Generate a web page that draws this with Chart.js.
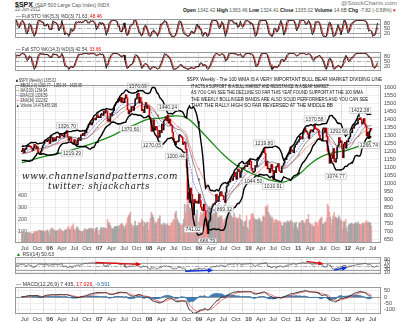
<!DOCTYPE html>
<html>
<head>
<meta charset="utf-8">
<script src="https://cdn.jsdelivr.net/npm/chart.js@4.4.1/dist/chart.umd.min.js"></script>
<style>
  body { margin:0; width:400px; height:323px; background:#fff; position:relative; overflow:hidden; font-family:"Liberation Sans", Arial, sans-serif; }
  canvas { position:absolute; left:0; }
  .t { position:absolute; white-space:nowrap; line-height:1; color:#333; transform-origin:0 0; }
  .note { position:absolute; white-space:nowrap; line-height:1; color:#111; font-size:5.6px; transform-origin:0 0; }
  .wm { position:absolute; white-space:nowrap; line-height:1; color:#1a1a1a; font-family:"DejaVu Serif", serif; font-style:italic; font-size:10px; letter-spacing:0.6px; transform-origin:0 0; }
</style>
</head>
<body>
<canvas id="sto1" width="400" height="32" style="top:13px"></canvas>
<canvas id="sto2" width="400" height="32" style="top:46px"></canvas>
<canvas id="main" width="400" height="173" style="top:79px"></canvas>
<canvas id="rsi" width="400" height="30" style="top:251px"></canvas>
<canvas id="macd" width="400" height="42" style="top:281px"></canvas>

<div class="t" style="left:15px;top:1px;font-size:7px;color:#111"><b>$SPX</b> <span style="font-size:5px;color:#555">(S&amp;P 500 Large Cap Index) INDX</span></div>
<div class="t" style="left:15px;top:8px;font-size:4.5px;color:#555">22-Jun-2012</div>
<div class="t" id="stc" style="left:341px;top:1px;font-size:5px;color:#777">@StockCharts.com</div>
<div class="t" id="ohlc" style="left:183px;top:8px;font-size:5px;color:#555"><b style="color:#222">Open</b> 1342.42 <b style="color:#222">High</b> 1363.46 <b style="color:#222">Low</b> 1324.41 <b style="color:#222">Close</b> 1335.02 <b style="color:#222">Volume</b> 14.6B <b style="color:#222">Chg</b> -7.82 (-0.58%) <span style="color:#c00">&#9662;</span></div>

<div class="t" id="lg1" style="left:16px;top:14px;font-size:5px;">&#8212; Full STO %K(5,3) %D(3) 71.63, <span style="color:#d00">48.46</span></div>
<div class="t" id="lg2" style="left:16px;top:47px;font-size:5px;">&#8212; Full STO %K(14,3) %D(3) 42.54, <span style="color:#d00">33.66</span></div>

<div class="t" id="m1" style="left:16px;top:79px;font-size:4.6px;">&#9632; $SPX (Weekly) 1335.02</div>
<div class="t" id="m2" style="left:16px;top:84px;font-size:4.6px;">&#8212; BB(20,2.0) 1300.77 - 1359.36 - 1425.95</div>
<div class="t" id="m3" style="left:16px;top:89px;font-size:4.6px;"><span style="color:#1a8a1a">&#8212;</span> MA(100) 1264.94</div>
<div class="t" id="m4" style="left:16px;top:94px;font-size:4.6px;"><span style="color:#33f">- -</span> EMA(13) 1336.59</div>
<div class="t" id="m5" style="left:16px;top:99px;font-size:4.6px;"><span style="color:#f55">&#8212;</span> EMA(34) 1322.82</div>
<div class="t" id="m6" style="left:16px;top:104px;font-size:4.6px;">&#9650; Volume 14,476,485,936</div>

<div class="note" id="n1" style="left:187px;top:77px">$SPX Weekly - The 100 WMA IS A VERY IMPORTANT BULL BEAR MARKET DIVIDING LINE</div>
<div class="note" id="n2" style="left:191px;top:83.5px">IT ACTS A SUPPORT IN A BULL MARKET AND RESISTANCE IN A BEAR MARKET</div>
<div class="note" id="n3" style="left:191px;top:90px">AS YOU CAN SEE THE DECLINE SO FAR THIS YEAT FOUND SUPPORT AT THE 100 WMA</div>
<div class="note" id="n4" style="left:191px;top:96.5px">THE WEEKLY BOLLINGER BANDS ARE ALSO SOLID PERFORMERS AND YOU CAN SEE</div>
<div class="note" id="n5" style="left:191px;top:103px">THAT THE RALLY HIGH SO FAR REVERSED AT THE MIDDLE BB</div>

<div class="wm" id="w1" style="left:22px;top:171px">www.channelsandpatterns.com</div>
<div class="wm" id="w2" style="left:48px;top:181px">twitter: shjackcharts</div>

<div class="t" id="lr" style="left:16px;top:252px;font-size:5px;"><span style="color:#1a8a1a">&#9650;</span> RSI(14) 50.63</div>
<div class="t" id="lm" style="left:16px;top:282px;font-size:5px;">&#8212; MACD(12,26,9) 7.435, <span style="color:#d00">17.026</span>, <span style="color:#2a6fb0">-9.591</span></div>

<script>
// weekly closes, Jan-Jun 2005 only feed the indicators
const warmClose = [1186,1184,1168,1171,1204,1206,1201,1211,1222,1200,1190,1172,1172,1182,1142,1152,1157,1171,1154,1189,1198,1197];
const close2005 = [1201,1217,1191,1211,1212,1228,1230,1234,1226,1230,1220,1205,1218,1241,1237,1215,1229,1196,1186,1179,1199,1220,1235,1248,1268,1265,1259,1267,1268,1248];
const close2006 = [1285,1287,1261,1284,1264,1267,1287,1289,1287,1282,1307,1302,1295,1295,1289,1311,1311,1325,1291,1267,1280,1288,1253,1251,1245,1270,1265,1236,1240,1279,1280,1267,1302,1296,1311,1299,1320,1314,1336,1350,1366,1368,1377,1364,1380,1401,1400,1396,1409,1427,1410,1418];
const close2007 = [1410,1430,1431,1423,1449,1438,1456,1451,1388,1402,1386,1437,1421,1443,1453,1484,1495,1505,1506,1522,1515,1536,1507,1533,1503,1503,1530,1552,1534,1459,1433,1453,1445,1479,1474,1454,1484,1525,1527,1557,1561,1501,1536,1509,1453,1458,1441,1481,1504,1468,1484,1478];
const close2008 = [1411,1401,1325,1330,1396,1331,1349,1353,1331,1294,1288,1330,1316,1370,1333,1390,1398,1414,1389,1425,1375,1400,1361,1360,1318,1278,1262,1240,1261,1257,1260,1297,1298,1292,1283,1242,1252,1255,1213,1099,899,940,877,968,930,873,800,896,876,879,887,873];
const close2009 = [931,890,850,832,826,869,827,770,735,683,757,768,816,843,857,870,866,878,929,883,887,919,940,946,921,918,896,879,941,979,987,1010,1005,1026,1029,1016,1042,1068,1044,1025,1071,1087,1080,1036,1069,1093,1091,1091,1106,1106,1102,1126,1115];
const close2010 = [1145,1136,1092,1074,1066,1075,1109,1105,1139,1150,1160,1167,1179,1194,1192,1217,1187,1111,1136,1088,1089,1065,1092,1117,1076,1022,1078,1065,1103,1102,1122,1079,1071,1065,1104,1110,1125,1149,1147,1166,1176,1183,1184,1226,1200,1200,1190,1225,1240,1244,1257,1258];
const close2011 = [1272,1293,1283,1276,1311,1329,1343,1320,1321,1304,1279,1314,1332,1328,1320,1337,1364,1340,1338,1333,1331,1300,1271,1271,1268,1340,1344,1316,1345,1292,1199,1179,1124,1177,1174,1154,1216,1136,1131,1155,1225,1238,1285,1253,1264,1216,1159,1244,1255,1219,1265,1258];
const close2012 = [1278,1289,1315,1316,1345,1343,1361,1366,1370,1371,1404,1397,1408,1398,1370,1379,1403,1369,1353,1295,1318,1278,1325,1343,1335];

// weekly volume, in hundreds of millions of shares
const vol2005 = [85,95,92,80,82,88,86,90,84,88,80,76,82,95,98,92,96,108,104,110,106,98,104,100,90,106,104,112,95,68];
const vol2006 = [112,122,128,115,110,104,100,106,112,106,122,112,108,98,92,112,105,115,128,140,118,112,135,145,162,118,102,122,138,128,110,104,98,94,96,104,122,116,110,114,116,126,118,126,120,118,88,120,124,132,108,68];
const vol2007 = [110,128,130,125,130,128,125,118,200,170,175,150,128,120,118,135,140,138,140,145,130,150,160,165,155,140,120,150,165,210,230,240,260,160,150,130,150,185,135,150,150,175,165,170,200,185,140,175,160,170,180,110];
const vol2008 = [170,210,260,240,220,190,160,170,175,200,210,230,160,155,150,170,160,150,160,165,145,140,150,170,170,200,190,250,270,210,190,170,160,150,150,160,200,330,260,320,380,330,300,290,250,280,300,200,240,230,280,120];
const vol2009 = [180,220,260,240,250,260,240,250,280,300,290,310,280,250,230,250,240,270,290,250,210,220,230,220,230,200,170,200,210,230,240,250,240,250,230,220,210,250,210,220,200,210,210,240,200,190,180,140,180,190,230,130,110];
const vol2010 = [190,200,240,250,240,210,200,190,200,190,210,200,180,180,220,230,220,310,300,320,260,240,230,210,220,200,170,190,200,190,180,190,180,180,150,140,170,180,170,170,190,180,170,190,190,180,130,170,160,180,130,110];
const vol2011 = [170,170,180,190,190,170,160,180,200,200,240,170,160,150,160,140,140,180,170,170,150,190,200,210,220,160,160,180,170,210,330,310,260,220,150,200,230,260,220,220,200,210,230,210,190,190,120,180,180,200,130,90];
const vol2012 = [150,160,160,170,160,160,160,170,170,160,180,160,160,150,160,170,160,170,180,190,170,180,170,170,145];

// 100-week moving average (quarter ends)
const ma100Dates = ['2005-06-10','2005-09-30','2005-12-30','2006-03-31','2006-06-30','2006-09-29','2006-12-29','2007-03-30','2007-06-29','2007-09-28','2007-12-28','2008-03-28','2008-06-27','2008-09-26','2008-12-26','2009-03-27','2009-06-26','2009-09-25','2009-12-31','2010-03-26','2010-06-25','2010-09-24','2010-12-31','2011-03-25','2011-06-24','2011-09-30','2011-12-30','2012-03-30','2012-06-22'];
const ma100 = [1128,1155,1174,1189,1212,1236,1263,1294,1333,1369,1400,1407,1420,1411,1345,1263,1182,1117,1070,1042,1016,1008,1050,1115,1167,1192,1207,1234,1265];

// marked highs and lows
const labelDates = ['2006-05-08','2006-06-14','2007-08-16','2007-10-11','2008-01-22','2008-05-19','2008-07-15','2008-11-21','2009-03-06','2009-07-08','2010-02-05','2010-04-26','2010-07-01','2011-05-02','2011-10-04','2011-10-27','2012-04-02','2012-06-04'];
const labelPrices = [1326.70,1219.29,1370.60,1576.09,1270.05,1440.24,1200.44,741.02,666.79,869.32,1044.50,1219.80,1010.91,1370.58,1074.77,1292.66,1422.38,1266.74];

// RSI divergence arrows
const arrowFromDate = ['2006-12-29','2011-02-04','2008-09-26','2011-08-19'];
const arrowFromVal = [72.6,79.6,20.4,27.4];
const arrowToDate = ['2007-11-09','2011-05-27','2009-04-03','2011-11-11'];
const arrowToVal = [62,65.7,25.7,41.3];
const arrowColors = ['#e01010','#e01010','#1030e0','#1030e0'];

const quarterNames = ['Jan','Apr','Jul','Oct'];
const priceTicks = [650,700,750,800,850,900,950,1000,1050,1100,1150,1200,1250,1300,1350,1400,1450,1500,1550,1600];
const volumeTicks = [100,200,300,400];

const close = [].concat(close2005, close2006, close2007, close2008, close2009, close2010, close2011, close2012);
const volume = [].concat(vol2005, vol2006, vol2007, vol2008, vol2009, vol2010, vol2011, vol2012);
const N = close.length;
const W = warmClose.length;
const all = warmClose.concat(close);

const startUTC = Date.UTC(2005, 5, 10);
const WEEK = 7 * 864e5;
function idxOf(s) {
    const p = s.split('-').map(Number);
    return (Date.UTC(p[0], p[1] - 1, p[2]) - startUTC) / WEEK;
}
const XMIN = -0.5, XMAX = 370.5;

const qTicks = [];
for (let y = 2005; y <= 2012; y++) {
    for (let m = 0; m < 12; m += 3) {
        const v = (Date.UTC(y, m, 1) - startUTC) / WEEK;
        if (v > XMIN && v < XMAX) qTicks.push({ v: v, label: m === 0 ? String(y).slice(2) : quarterNames[m / 3], year: m === 0 });
    }
}

// indicators
function smaAt(a, n, i) {
    if (i < n - 1) return null;
    let s = 0;
    for (let j = i - n + 1; j <= i; j++) { if (a[j] == null) return null; s += a[j]; }
    return s / n;
}
function ema(a, n) {
    const k = 2 / (n + 1);
    let e = null;
    return a.map(v => { if (v == null) return null; e = e == null ? v : v * k + e * (1 - k); return e; });
}
const bbMid = all.map((v, i) => smaAt(all, 20, i));
const bbSd = all.map((v, i) => {
    if (bbMid[i] == null) return null;
    let s = 0;
    for (let j = i - 19; j <= i; j++) s += (all[j] - bbMid[i]) ** 2;
    return Math.sqrt(s / 20);
});
const bbUp = bbMid.map((m, i) => m == null ? null : m + 2 * bbSd[i]);
const bbLo = bbMid.map((m, i) => m == null ? null : m - 2 * bbSd[i]);
const ema13 = ema(all, 13);
const ema34 = ema(all, 34);
const ema12 = ema(all, 12), ema26 = ema(all, 26);
const macd = all.map((v, i) => ema12[i] - ema26[i]);
const signal = ema(macd, 9);
const hist = macd.map((v, i) => v - signal[i]);

function rsiCalc(a, n) {
    const out = a.map(() => null);
    let g = 0, l = 0;
    for (let i = 1; i < a.length; i++) {
        const d = a[i] - a[i - 1], up = Math.max(d, 0), dn = Math.max(-d, 0);
        if (i <= n) { g += up / n; l += dn / n; if (i < n) continue; }
        else { g = (g * (n - 1) + up) / n; l = (l * (n - 1) + dn) / n; }
        out[i] = l === 0 ? 100 : 100 - 100 / (1 + g / l);
    }
    return out;
}
const rsi = rsiCalc(all, 14);

function stoch(a, n, s, d) {
    const raw = a.map((v, i) => {
        if (i < n - 1) return null;
        const w = a.slice(i - n + 1, i + 1), hh = Math.max(...w), ll = Math.min(...w);
        return hh === ll ? 50 : (v - ll) / (hh - ll) * 100;
    });
    const k = raw.map((v, i) => smaAt(raw, s, i));
    const dd = k.map((v, i) => smaAt(k, d, i));
    return { k: k, d: dd };
}
const sto5 = stoch(all, 5, 3, 3);
const sto14 = stoch(all, 14, 3, 3);

const pts = arr => arr.slice(W).map((v, i) => ({ x: i, y: v }));

const prevClose = close.map((c, i) => i === 0 ? warmClose[W - 1] : close[i - 1]);
const upWeek = close.map((c, i) => c >= prevClose[i]);

// shared pieces
Chart.defaults.font.family = '"Liberation Sans", Arial, sans-serif';
Chart.defaults.font.size = 6;
Chart.defaults.color = '#444';
Chart.defaults.animation = false;

function xAxis(labels) {
    return {
        type: 'linear', min: XMIN, max: XMAX,
        afterBuildTicks: s => { s.ticks = qTicks.map(t => ({ value: t.v })); },
        afterFit: s => { s.height = labels ? 9 : 0; },
        grid: { color: c => (qTicks[c.index] && qTicks[c.index].year) ? '#cfcfcf' : '#e4e4e4', lineWidth: 0.7, drawTicks: false },
        border: { display: false },
        ticks: {
            display: labels, autoSkip: false, maxRotation: 0, padding: 2, color: '#444',
            callback: (v, i) => qTicks[i] ? qTicks[i].label : '',
            font: c => ({ size: 6, weight: (qTicks[c.index] && qTicks[c.index].year) ? 'bold' : 'normal' })
        }
    };
}
function yAxis(min, max, ticks) {
    return {
        position: 'right', min: min, max: max,
        afterBuildTicks: s => { s.ticks = ticks.map(v => ({ value: v })); },
        afterFit: s => { s.width = 19; },
        grid: { color: '#e6e6e6', lineWidth: 0.7, drawTicks: false },
        border: { display: false },
        ticks: { padding: 3, color: '#444', font: { size: 5.5 }, autoSkip: false, callback: v => String(v) }
    };
}

const framePlugin = {
    id: 'frame',
    afterDraw(c) {
        const a = c.chartArea, x = c.ctx;
        x.save(); x.strokeStyle = '#9a9a9a'; x.lineWidth = 1;
        x.strokeRect(Math.round(a.left) + 0.5, Math.round(a.top) + 0.5, Math.round(a.width) - 1, Math.round(a.height) - 1);
        x.restore();
    }
};
const levelsPlugin = {
    id: 'levels',
    beforeDatasetsDraw(c, args, o) {
        const ys = c.scales.y, a = c.chartArea, x = c.ctx;
        x.save(); x.lineWidth = 0.8;
        (o.solid || []).forEach(v => {
            const y = Math.round(ys.getPixelForValue(v)) + 0.5;
            x.strokeStyle = '#8a8a8a'; x.setLineDash([]);
            x.beginPath(); x.moveTo(a.left, y); x.lineTo(a.right, y); x.stroke();
        });
        (o.dashed || []).forEach(v => {
            const y = Math.round(ys.getPixelForValue(v)) + 0.5;
            x.strokeStyle = '#999'; x.setLineDash([4, 2, 1, 2]);
            x.beginPath(); x.moveTo(a.left, y); x.lineTo(a.right, y); x.stroke();
        });
        x.restore();
    }
};
const priceLabelPlugin = {
    id: 'priceLabels',
    afterDatasetsDraw(c) {
        const x = c.ctx, xs = c.scales.x, ys = c.scales.y;
        x.save();
        x.font = '5px "Liberation Sans", Arial, sans-serif';
        x.textAlign = 'center'; x.textBaseline = 'middle';
        labelDates.forEach((d, i) => {
            const xi = idxOf(d), p = labelPrices[i];
            const ci = Math.max(0, Math.min(N - 1, Math.round(xi)));
            const above = p >= close[ci];
            const px = xs.getPixelForValue(xi);
            const py = ys.getPixelForValue(p) + (above ? -5 : 5);
            const t = p.toFixed(2), w = x.measureText(t).width + 3;
            x.fillStyle = 'rgba(255,255,255,0.9)'; x.fillRect(px - w / 2, py - 3, w, 6);
            x.strokeStyle = '#b0b0b0'; x.lineWidth = 0.5; x.strokeRect(px - w / 2, py - 3, w, 6);
            x.fillStyle = '#333'; x.fillText(t, px, py + 0.3);
        });
        x.restore();
    }
};
const arrowPlugin = {
    id: 'arrows',
    afterDatasetsDraw(c) {
        const x = c.ctx, xs = c.scales.x, ys = c.scales.y;
        x.save();
        arrowFromDate.forEach((d, i) => {
            const x1 = xs.getPixelForValue(idxOf(d)), y1 = ys.getPixelForValue(arrowFromVal[i]);
            const x2 = xs.getPixelForValue(idxOf(arrowToDate[i])), y2 = ys.getPixelForValue(arrowToVal[i]);
            x.strokeStyle = x.fillStyle = arrowColors[i]; x.lineWidth = 1.3;
            x.beginPath(); x.moveTo(x1, y1); x.lineTo(x2, y2); x.stroke();
            const an = Math.atan2(y2 - y1, x2 - x1), cs = Math.cos(an), sn = Math.sin(an);
            x.beginPath();
            x.moveTo(x2 + 1.5 * cs, y2 + 1.5 * sn);
            x.lineTo(x2 - 4 * cs - 2.2 * sn, y2 - 4 * sn + 2.2 * cs);
            x.lineTo(x2 - 4 * cs + 2.2 * sn, y2 - 4 * sn - 2.2 * cs);
            x.closePath(); x.fill();
        });
        x.restore();
    }
};

const lineDs = (data, color, width, extra) => Object.assign({
    type: 'line', data: data, borderColor: color, borderWidth: width,
    pointRadius: 0, fill: false, tension: 0, spanGaps: false
}, extra || {});

const baseOpts = (scales, pluginOpts) => ({
    responsive: false, animation: false, events: [],
    layout: { padding: { left: 15, right: 0, top: 0, bottom: 0 } },
    plugins: Object.assign({ legend: { display: false }, tooltip: { enabled: false } }, pluginOpts || {}),
    scales: scales
});

// stochastic panels
function stoPanel(id, s) {
    new Chart(document.getElementById(id), {
        type: 'line',
        data: { datasets: [
            lineDs(pts(s.k), '#111', 0.9),
            lineDs(pts(s.d), '#e02020', 0.9)
        ] },
        options: baseOpts({ x: xAxis(false), y: yAxis(-13.75, 106.25, [20, 50, 80]) },
            { levels: { solid: [20, 80], dashed: [50] } }),
        plugins: [levelsPlugin, framePlugin]
    });
}
stoPanel('sto1', sto5);
stoPanel('sto2', sto14);

// price panel
new Chart(document.getElementById('main'), {
    type: 'bar',
    data: { datasets: [
        {
            type: 'bar', yAxisID: 'yv', order: 10, grouped: false, barThickness: 1,
            data: volume.map((v, i) => ({ x: i, y: v })),
            backgroundColor: upWeek.map(u => u ? 'rgba(150,150,150,0.7)' : 'rgba(238,140,140,0.7)')
        },
        lineDs(pts(ema34), 'rgba(240,90,90,0.85)', 0.7, { order: 6 }),
        lineDs(pts(ema13), 'rgba(60,60,240,0.85)', 0.7, { order: 6, borderDash: [2, 1] }),
        lineDs(ma100Dates.map((d, i) => ({ x: idxOf(d), y: ma100[i] })), '#1c8a1c', 1.3, { order: 5, tension: 0.4 }),
        {
            type: 'bar', yAxisID: 'y', order: 3, grouped: false, barThickness: 1, minBarLength: 1,
            data: close.map((c, i) => ({ x: i, y: [prevClose[i], c] })),
            backgroundColor: upWeek.map(u => u ? '#111' : '#d40000')
        },
        lineDs(pts(bbMid), '#444', 0.6, { order: 2 }),
        lineDs(pts(bbUp), '#000', 1.4, { order: 2 }),
        lineDs(pts(bbLo), '#000', 1.4, { order: 2 })
    ] },
    options: baseOpts({
        x: xAxis(true),
        y: yAxis(625, 1612, priceTicks),
        yv: {
            position: 'left', min: 0, max: 1333,
            afterBuildTicks: s => { s.ticks = volumeTicks.map(v => ({ value: v })); },
            afterFit: s => { s.width = 0; },
            grid: { display: false }, border: { display: false },
            ticks: { mirror: true, padding: 3, color: '#555', font: { size: 5.5 }, autoSkip: false, callback: v => String(v) }
        }
    }),
    plugins: [framePlugin, priceLabelPlugin]
});

// RSI panel
new Chart(document.getElementById('rsi'), {
    type: 'line',
    data: { datasets: [ lineDs(pts(rsi), '#555', 0.8) ] },
    options: baseOpts({ x: xAxis(false), y: yAxis(-0.4, 103.9, [10, 30, 50, 70, 90]) },
        { levels: { solid: [30, 70], dashed: [50] } }),
    plugins: [levelsPlugin, arrowPlugin, framePlugin]
});

// MACD panel
new Chart(document.getElementById('macd'), {
    type: 'bar',
    data: { datasets: [
        { type: 'bar', order: 5, grouped: false, barThickness: 1.1, data: pts(hist), backgroundColor: 'rgba(60,120,175,0.9)' },
        lineDs(pts(signal), '#f06060', 0.9, { order: 2 }),
        lineDs(pts(macd), '#222', 0.9, { order: 1 })
    ] },
    options: baseOpts({ x: xAxis(true), y: yAxis(-131, 75, [-100, -50, 0, 50]) },
        { levels: { solid: [0] } }),
    plugins: [levelsPlugin, framePlugin]
});

// squeeze text lines to the widths they take in the picture
function fit(id, w) {
    const el = document.getElementById(id);
    const r = el.getBoundingClientRect().width;
    el.style.transform = 'scaleX(' + (w / r) + ')';
    return w / r;
}
fit('n1', 195);
fit('n2', 138);
fit('n3', 172);
fit('n4', 177);
fit('n5', 142);
fit('w1', 156);
fit('w2', 102);
fit('ohlc', 213);
fit('stc', 56);
fit('lg1', 86);
fit('lg2', 85);
const km = fit('m2', 66);
['m1', 'm3', 'm4', 'm5', 'm6'].forEach(id => { document.getElementById(id).style.transform = 'scaleX(' + km + ')'; });
fit('lr', 38);
fit('lm', 94);
</script>
</body>
</html>
